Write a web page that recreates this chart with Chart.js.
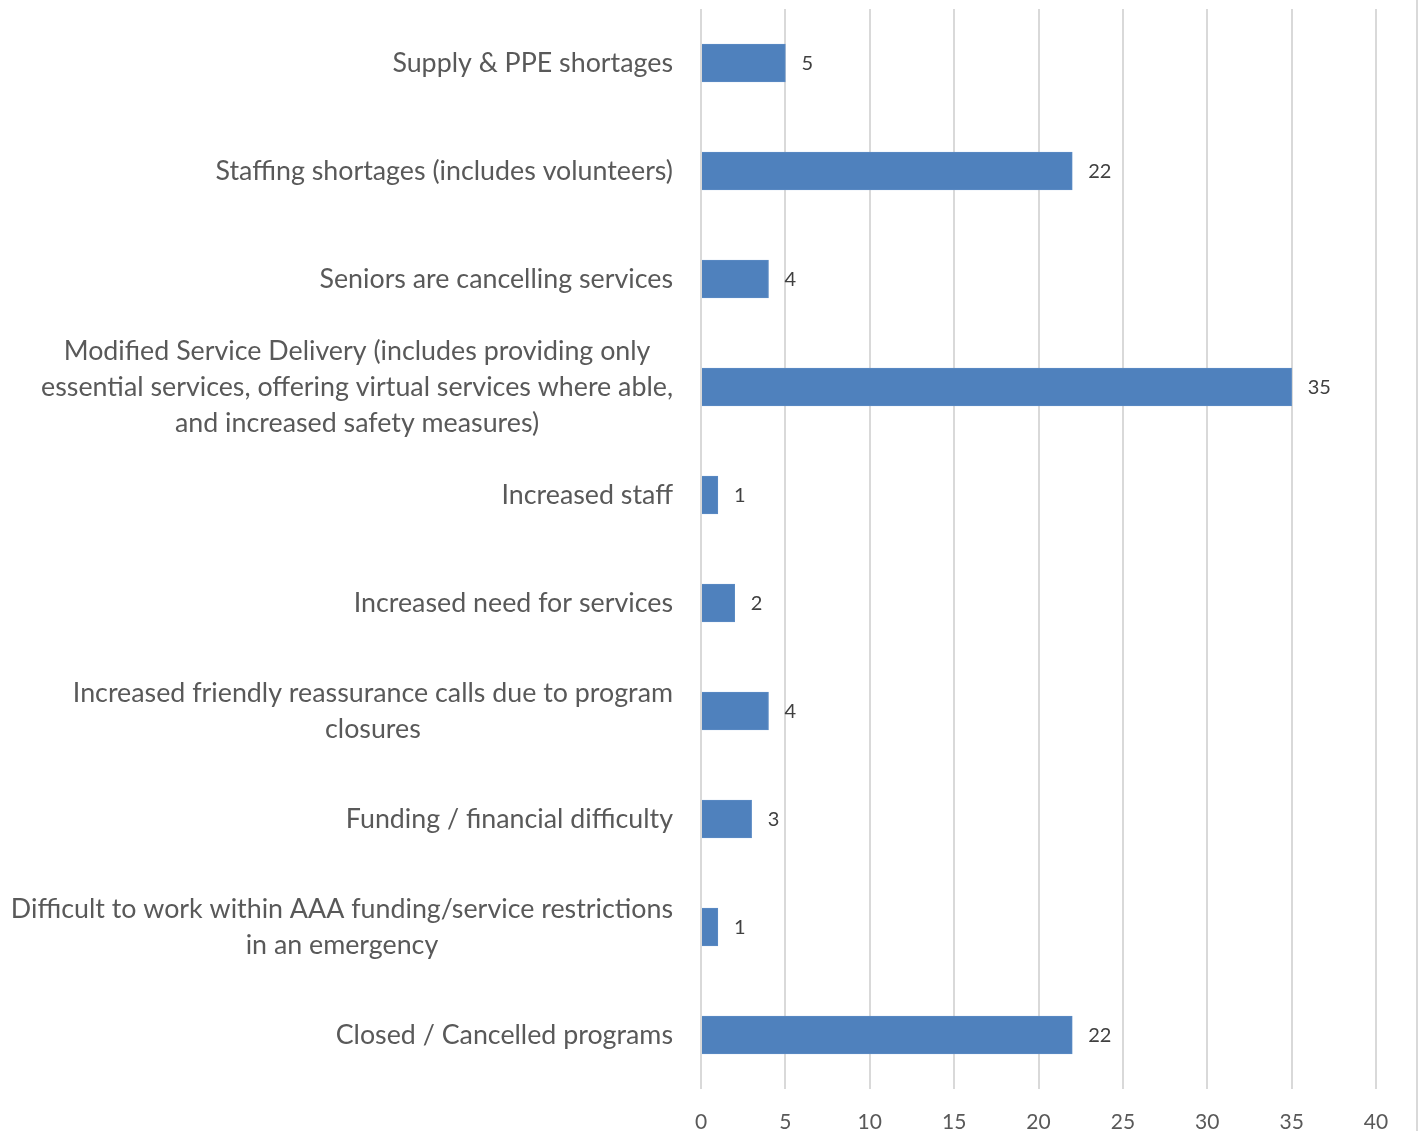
<!DOCTYPE html>
<html>
<head>
<meta charset="utf-8">
<script src="https://cdn.jsdelivr.net/npm/chart.js@4/dist/chart.umd.min.js"></script>
<style>
  html, body { margin: 0; padding: 0; background: #fff; }
  #wrap { width: 1424px; height: 1131px; position: relative; }
</style>
</head>
<body>
<div id="wrap"><canvas id="impactChart"></canvas></div>
<script>
// Chart data
const categories = [
    ['Supply & PPE shortages'],
    ['Staffing shortages (includes volunteers)'],
    ['Seniors are cancelling services'],
    ['Modified Service Delivery (includes providing only', 'essential services, offering virtual services where able,', 'and increased safety measures)'],
    ['Increased staff'],
    ['Increased need for services'],
    ['Increased friendly reassurance calls due to program', 'closures'],
    ['Funding / financial difficulty'],
    ['Difficult to work within AAA funding/service restrictions', 'in an emergency'],
    ['Closed / Cancelled programs']
];
const counts = [5, 22, 4, 35, 1, 2, 4, 3, 1, 22];
const xTicks = [0, 5, 10, 15, 20, 25, 30, 35, 40];

const FONT = "Lato, 'Open Sans', sans-serif";

// Draws category labels (centered lines, block right-aligned) and value labels
const labelPlugin = {
    id: 'labelPlugin',
    afterDraw(chart) {
        const ctx = chart.ctx;
        const yScale = chart.scales.y;
        const xScale = chart.scales.x;
        const lineH = 36;

        ctx.save();
        ctx.font = '26.8px ' + FONT;
        ctx.fillStyle = '#595959';
        ctx.textBaseline = 'middle';
        ctx.textAlign = 'center';
        categories.forEach((lines, i) => {
            const yc = yScale.getPixelForTick(i);
            const maxW = Math.max(...lines.map(l => ctx.measureText(l).width));
            const cx = 673 - maxW / 2;
            const y0 = yc - (lines.length - 1) * lineH / 2;
            lines.forEach((l, j) => ctx.fillText(l, cx, y0 + j * lineH));
        });

        // value labels
        ctx.font = '20px ' + FONT;
        ctx.fillStyle = '#404040';
        ctx.textAlign = 'left';
        counts.forEach((v, i) => {
            ctx.fillText(String(v), xScale.getPixelForValue(v) + 16, yScale.getPixelForTick(i) + 1);
        });

        // outer frame line at the right edge
        ctx.strokeStyle = '#D9D9D9';
        ctx.lineWidth = 2;
        ctx.beginPath();
        ctx.moveTo(1417, 0);
        ctx.lineTo(1417, chart.height);
        ctx.stroke();
        ctx.restore();
    }
};

new Chart(document.getElementById('impactChart').getContext('2d'), {
    type: 'bar',
    data: {
        labels: categories.map(c => c.join(' ')),
        datasets: [{
            data: counts,
            backgroundColor: '#4F81BD',
            borderColor: '#5B8BC4',
            borderWidth: 1,
            barThickness: 38
        }]
    },
    options: {
        indexAxis: 'y',
        responsive: true,
        maintainAspectRatio: false,
        animation: false,
        layout: { padding: { top: 9, right: 48, left: 0, bottom: 0 } },
        scales: {
            x: {
                min: 0,
                max: 40,
                afterBuildTicks: (scale) => { scale.ticks = xTicks.map(v => ({ value: v })); },
                grid: { color: '#D9D9D9', lineWidth: 2, drawTicks: false },
                border: { display: false },
                ticks: {
                    color: '#595959',
                    padding: 21,
                    font: { size: 21, family: FONT }
                },
                afterFit: (scale) => { scale.height = 42; }
            },
            y: {
                grid: { display: false },
                border: { display: false },
                ticks: { display: false },
                afterFit: (scale) => { scale.width = 701; }
            }
        },
        plugins: {
            legend: { display: false },
            tooltip: { enabled: false }
        }
    },
    plugins: [labelPlugin]
});
</script>
</body>
</html>
